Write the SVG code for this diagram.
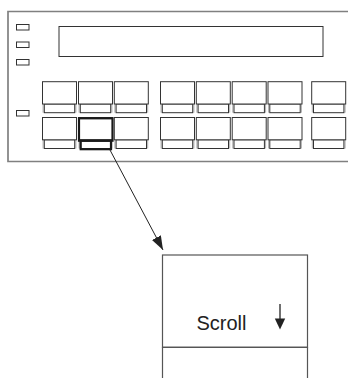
<svg xmlns="http://www.w3.org/2000/svg" width="348" height="378" viewBox="0 0 348 378">
<style>
.panel{fill:none;stroke:#808080;stroke-width:1.7}
.led{fill:#fff;stroke:#333;stroke-width:1}
.disp{fill:#fff;stroke:#333;stroke-width:1}
.kb{fill:#fff;stroke:#333;stroke-width:1}
.ks{fill:#fff;stroke:#333;stroke-width:1}
.kg{fill:none;stroke:#999;stroke-width:0.8}
.hl{fill:none;stroke:#1a1a1a;stroke-width:2.2}
.conn{fill:none;stroke:#222;stroke-width:1}
.big{fill:#fff;stroke:#555;stroke-width:1.2}
.lbl{font-family:"Liberation Sans",Arial,sans-serif;font-size:20px;fill:#222}
</style>
<defs>
<marker id="ah" viewBox="0 0 14 10" refX="14" refY="5" markerWidth="14" markerHeight="10" markerUnits="userSpaceOnUse" orient="auto">
<path d="M0,0 L14,5 L0,10 Z" fill="#222"/>
</marker>
<g id="key">
<line class="kg" x1="0.6" y1="22" x2="0.6" y2="31"/>
<line class="kg" x1="33.4" y1="22" x2="33.4" y2="31"/>
<rect class="ks" x="1.8" y="22.3" width="30.4" height="8.7"/>
<rect class="kb" x="0" y="0" width="34" height="22.3"/>
</g>
</defs>
<g id="panel">
<path class="panel" d="M348,11.5 H8 V161.5 H348"/>
<rect class="led" x="16.5" y="24.5" width="12.5" height="5.5"/>
<rect class="led" x="16.5" y="42" width="12.5" height="5.5"/>
<rect class="led" x="16.5" y="59.5" width="12.5" height="5.5"/>
<rect class="led" x="16.5" y="110.5" width="12.5" height="5.5"/>
<rect class="disp" x="59" y="26.5" width="264" height="30"/>
</g>
<g id="row1">
<use href="#key" x="42.5" y="81.7"/>
<use href="#key" x="78.5" y="81.7"/>
<use href="#key" x="114.3" y="81.7"/>
<use href="#key" x="160.5" y="81.7"/>
<use href="#key" x="196.3" y="81.7"/>
<use href="#key" x="232.2" y="81.7"/>
<use href="#key" x="268" y="81.7"/>
<use href="#key" x="311.7" y="81.7"/>
</g>
<g id="row2">
<use href="#key" x="42.5" y="117.5"/>
<use href="#key" x="78.5" y="117.5"/>
<use href="#key" x="114.3" y="117.5"/>
<use href="#key" x="160.5" y="117.5"/>
<use href="#key" x="196.3" y="117.5"/>
<use href="#key" x="232.2" y="117.5"/>
<use href="#key" x="268" y="117.5"/>
<use href="#key" x="311.7" y="117.5"/>
</g>
<g id="highlight">
<rect class="hl" x="79" y="118.3" width="33.5" height="22.4"/>
<rect class="hl" x="80.7" y="140.7" width="30.3" height="8.5"/>
</g>
<g id="connectors">
<line class="conn" x1="110" y1="150" x2="163" y2="250" marker-end="url(#ah)"/>
</g>
<g id="scroll-key">
<rect class="big" x="162.5" y="255" width="145" height="92.3"/>
<path class="big" d="M162.5,380 V347.3 H307.5 V380"/>
<text class="lbl" x="196.5" y="330">Scroll</text>
<line x1="280" y1="304" x2="280" y2="320" stroke="#222" stroke-width="1.3"/>
<path d="M274.8,318.5 L285.2,318.5 L280,329.5 Z" fill="#222"/>
</g>
</svg>
